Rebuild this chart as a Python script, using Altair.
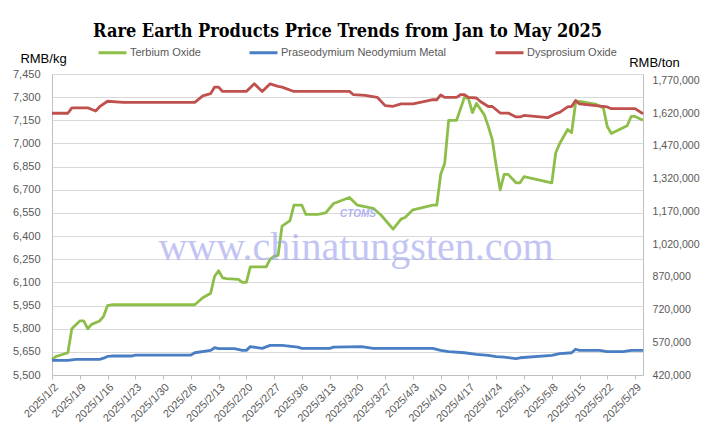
import altair as alt
import pandas as pd

# ---------------- data ----------------
series_names = ["Terbium Oxide", "Praseodymium Neodymium Metal", "Dysprosium Oxide"]
series_colors = ["#8DBE4A", "#4A7EC4", "#C0504D"]

# Terbium Oxide, RMB/kg (left axis)
tb_dates = ["01-02", "01-03", "01-05", "01-06", "01-07", "01-09", "01-10", "01-11", "01-12", "01-14",
            "01-15", "01-16", "01-17", "02-07", "02-09", "02-11", "02-12", "02-13", "02-14", "02-15",
            "02-18", "02-19", "02-20", "02-21", "02-25", "02-26", "02-27", "02-28", "03-01", "03-03",
            "03-04", "03-06", "03-07", "03-10", "03-12", "03-14", "03-17", "03-18", "03-20", "03-24",
            "03-26", "03-29", "03-31", "04-01", "04-03", "04-08", "04-09", "04-10", "04-11", "04-12",
            "04-14", "04-16", "04-17", "04-18", "04-19", "04-21", "04-22", "04-23", "04-24", "04-25",
            "04-26", "04-27", "04-29", "04-30", "05-01", "05-08", "05-09", "05-10", "05-12", "05-13",
            "05-14", "05-15", "05-19", "05-21", "05-22", "05-23", "05-27", "05-28", "05-29", "05-31"]
tb_values = [5600, 5620, 5636, 5645, 5800, 5850, 5850, 5800, 5828, 5850,
             5880, 5950, 5955, 5955, 6000, 6030, 6140, 6175, 6130, 6125,
             6120, 6100, 6100, 6200, 6200, 6250, 6270, 6275, 6465, 6500,
             6600, 6600, 6540, 6540, 6550, 6611, 6640, 6650, 6600, 6580,
             6535, 6445, 6510, 6520, 6570, 6600, 6600, 6800, 6870, 7150,
             7150, 7300, 7290, 7200, 7260, 7185, 7111, 7025, 6852, 6700,
             6800, 6800, 6745, 6745, 6785, 6745, 6940, 7000, 7090, 7070,
             7262, 7273, 7255, 7230, 7110, 7065, 7115, 7175, 7175, 7150]

# Praseodymium Neodymium Metal, RMB/ton (right axis)
prnd_dates = ["01-02", "01-06", "01-08", "01-14", "01-15", "01-16", "01-17", "01-22", "01-23", "02-06",
              "02-07", "02-11", "02-12", "02-13", "02-17", "02-19", "02-20", "02-21", "02-24", "02-26",
              "03-01", "03-05", "03-06", "03-13", "03-14", "03-21", "03-24", "04-08", "04-10", "04-12",
              "04-16", "04-19", "04-22", "04-24", "04-26", "04-29", "04-30", "05-08", "05-10", "05-13",
              "05-14", "05-15", "05-20", "05-22", "05-26", "05-28", "05-31"]
prnd_values = [487000, 487000, 492000, 492000, 497000, 505000, 507000, 507000, 511000, 511000,
               522000, 533000, 545000, 541000, 541000, 533000, 533000, 550000, 542000, 556000,
               556000, 548000, 542000, 542000, 548000, 550000, 542000, 542000, 533000, 527000,
               522000, 515000, 510000, 504000, 502000, 495000, 499000, 510000, 518000, 522000,
               538000, 533000, 533000, 527000, 527000, 533000, 533000]

# Dysprosium Oxide, RMB/ton (right axis)
dy_dates = ["01-02", "01-06", "01-07", "01-11", "01-13", "01-14", "01-16", "01-20", "02-07", "02-09",
            "02-11", "02-12", "02-13", "02-14", "02-20", "02-22", "02-24", "02-26", "02-28", "03-01",
            "03-04", "03-18", "03-19", "03-22", "03-25", "03-27", "03-29", "03-31", "04-03", "04-06",
            "04-08", "04-09", "04-10", "04-11", "04-14", "04-15", "04-16", "04-17", "04-19", "04-20",
            "04-22", "04-23", "04-25", "04-27", "04-29", "04-30", "05-01", "05-07", "05-09", "05-10",
            "05-12", "05-13", "05-14", "05-15", "05-22", "05-23", "05-29", "05-31"]
dy_values = [1620000, 1620000, 1645000, 1645000, 1630000, 1650000, 1675000, 1670000, 1670000, 1700000,
             1710000, 1740000, 1740000, 1720000, 1720000, 1755000, 1720000, 1755000, 1743000, 1740000,
             1720000, 1720000, 1705000, 1702000, 1693000, 1655000, 1652000, 1663000, 1663000, 1674000,
             1682000, 1682000, 1704000, 1693000, 1693000, 1705000, 1705000, 1693000, 1690000, 1674000,
             1651000, 1651000, 1621000, 1621000, 1603000, 1603000, 1610000, 1600000, 1618000, 1624000,
             1649000, 1651000, 1679000, 1663000, 1649000, 1641000, 1641000, 1618000]

left_ticks = list(range(5500, 7451, 150))
right_ticks = list(range(420000, 1770001, 150000))
x_start, x_end = "2025-01-02", "2025-05-31"

# ---------------- tables ----------------
def frame(dates, values, name):
    return pd.DataFrame({"date": ["2025-" + d for d in dates], "value": values, "series": name})

left_df = frame(tb_dates, tb_values, series_names[0])
right_df = pd.concat([frame(prnd_dates, prnd_values, series_names[1]),
                      frame(dy_dates, dy_values, series_names[2])], ignore_index=True)

def ms(s):
    return int(pd.Timestamp(s, tz="UTC").value // 10**6)

x_ticks = [ms(d) for d in pd.date_range(x_start, "2025-05-29", freq="7D").strftime("%Y-%m-%d")]

FONT = "Liberation Sans"
GRAY = "#595959"

# label expressions (thousands separators / y/m/d dates)
x_label = "utcyear(datum.value) + '/' + (utcmonth(datum.value) + 1) + '/' + utcdate(datum.value)"
left_label = "floor(datum.value / 1000) + ',' + pad(toString(datum.value % 1000), 3, '0', 'left')"
right_label = ("(datum.value >= 1000000 ? floor(datum.value / 1000000) + ',' + "
               "pad(toString(floor(datum.value / 1000) % 1000), 3, '0', 'left') : "
               "toString(floor(datum.value / 1000))) + ',000'")

x_enc = alt.X(
    "date:T",
    scale=alt.Scale(type="utc", domain=[ms(x_start), ms(x_end)]),
    axis=alt.Axis(values=x_ticks, labelExpr=x_label, labelAngle=-45,
                  labelColor=GRAY, labelFontSize=11, labelFont=FONT, labelPadding=2,
                  tickSize=4, tickColor="#bfbfbf", domainColor="#bfbfbf", grid=False, title=None,
                  labelOverlap=False, labelBound=False, labelFlush=False),
)

color_enc = alt.Color(
    "series:N",
    scale=alt.Scale(domain=series_names, range=series_colors),
    legend=alt.Legend(orient="none", legendX=45, legendY=-37, direction="horizontal",
                      title=None, symbolType="stroke", symbolSize=784, symbolStrokeWidth=3,
                      labelFont=FONT, labelFontSize=11, labelColor=GRAY, labelOffset=2,
                      labelLimit=400, columnPadding=42),
)

left = alt.Chart(left_df).mark_line(strokeWidth=2.8, strokeJoin="round").encode(
    x=x_enc,
    y=alt.Y("value:Q",
            scale=alt.Scale(domain=[5500, 7450], nice=False, zero=False),
            axis=alt.Axis(orient="left", values=left_ticks, labelExpr=left_label, ticks=False,
                          labelColor=GRAY, labelFontSize=11, labelFont=FONT, labelPadding=12,
                          gridColor="#d9d9d9", domainColor="#bfbfbf",
                          title="RMB/kg", titleAngle=0, titleX=-9, titleY=-16,
                          titleAlign="center", titleBaseline="middle", titleFont=FONT,
                          titleFontSize=13, titleFontWeight="normal", titleColor="#000000")),
    color=color_enc,
)

right = alt.Chart(right_df).mark_line(strokeWidth=2.8, strokeJoin="round").encode(
    x=x_enc,
    y=alt.Y("value:Q",
            scale=alt.Scale(domain=[420000, 1800000], nice=False, zero=False),
            axis=alt.Axis(orient="right", values=right_ticks, labelExpr=right_label, ticks=False,
                          grid=False, labelColor=GRAY, labelFontSize=10.6, labelFont=FONT,
                          labelPadding=9, domainColor="#bfbfbf",
                          title="RMB/ton", titleAngle=0, titleX=11, titleY=-12,
                          titleAlign="center", titleBaseline="middle", titleFont=FONT,
                          titleFontSize=13, titleFontWeight="normal", titleColor="#000000")),
    color=color_enc,
    detail="series:N",
)

wm_df = pd.DataFrame({"t": ["www.chinatungsten.com"]})
watermark = alt.Chart(wm_df).mark_text(
    font="Liberation Serif", fontSize=40, color="#9aa0ee", opacity=0.6, align="center", baseline="alphabetic"
).encode(text="t:N", x=alt.value(304), y=alt.value(186))

logo_df = pd.DataFrame({"t": ["CTOMS"]})
logo = alt.Chart(logo_df).mark_text(
    font=FONT, fontSize=10, fontStyle="italic", fontWeight="bold", color="#8f96ee", opacity=0.7, align="center"
).encode(text="t:N", x=alt.value(306), y=alt.value(140))

chart = alt.layer(left, right, watermark, logo).resolve_scale(y="independent").properties(
    width=591,
    height=301,
    autosize=alt.AutoSizeParams(type="none"),
    padding={"left": 44, "top": 66, "right": 59, "bottom": 57},
    title=alt.TitleParams(
        "Rare Earth Products Price Trends from Jan to May 2025",
        font="DejaVu Serif Condensed, DejaVu Serif", fontSize=18, fontWeight="bold",
        color="#000000", anchor="middle", frame="group", offset=9, dy=13,
    ),
).configure_view(stroke=None).configure(background="white")

chart.save("out.html", embed_options={"renderer": "svg", "actions": False})
